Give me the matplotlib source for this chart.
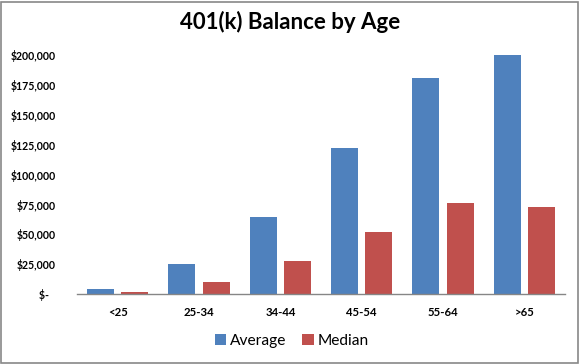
import numpy as np
import matplotlib
matplotlib.use("Agg")
import matplotlib.pyplot as plt
import matplotlib.ticker as mt

ages = ['<25', '25-34', '34-44', '45-54', '55-64', '>65']
average = [4200, 25300, 64600, 122300, 180800, 200000]
median = [1700, 10300, 27800, 51800, 76000, 73000]
yticks = [0, 25000, 50000, 75000, 100000, 125000, 150000, 175000, 200000]

plt.rcParams['font.family'] = ['Lato', 'DejaVu Sans']

fig = plt.figure(figsize=(5.8, 3.64), dpi=100)
fig.patches.append(plt.Rectangle((0.002, 0.003), 0.995, 0.992, transform=fig.transFigure,
                                  fill=False, edgecolor='#888888', linewidth=1.2))
ax = fig.add_axes([77 / 580, (364 - 294.3) / 364, 488 / 580, 239.3 / 364])

x = np.arange(len(ages))
w = 0.333
ax.bar(x - 0.21, average, w, color='#4F81BD', label='Average')
ax.bar(x + 0.21, median, w, color='#C0504D', label='Median')

ax.set_xlim(-0.5, len(ages) - 0.5)
ax.set_ylim(0, 200000)
ax.set_yticks(yticks)

def money(v, pos):
    if v == 0:
        return '$-   '
    return '${:,.0f}'.format(v)

ax.yaxis.set_major_formatter(mt.FuncFormatter(money))
ax.set_xticks(x)
ax.set_xticklabels(ages)
for lab in ax.get_yticklabels():
    lab.set_fontweight('bold')
    lab.set_fontsize(7.6)
for lab in ax.get_xticklabels():
    lab.set_fontweight('bold')
    lab.set_fontsize(8.2)
ax.tick_params(axis='y', length=0, pad=15)
ax.tick_params(axis='x', length=0, pad=9)

for s in ['top', 'right', 'left']:
    ax.spines[s].set_visible(False)
ax.spines['bottom'].set_color('#868686')
ax.spines['bottom'].set_linewidth(1.0)

fig.suptitle('401(k) Balance by Age', fontsize=16, fontweight='bold', y=0.97)
ax.legend(loc='center', bbox_to_anchor=(0.44, -0.195), ncol=2, frameon=False,
          fontsize=11.2, handlelength=0.75, handleheight=0.75, handletextpad=0.25,
          columnspacing=1.0)

plt.savefig('out.png', dpi=100)
